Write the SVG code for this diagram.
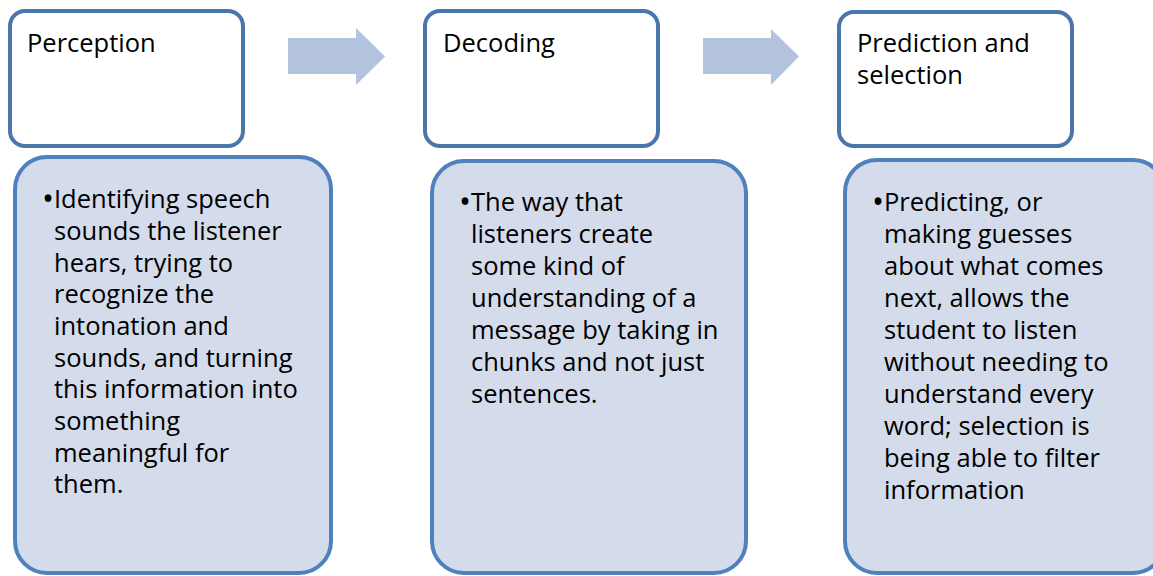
<svg xmlns="http://www.w3.org/2000/svg" width="1153" height="576" viewBox="0 0 1153 576">
  <style>
    .head { fill: #ffffff; stroke: #4a76aa; stroke-width: 4; }
    .body { fill: #d4dbea; stroke: #4f81bd; stroke-width: 4; }
    .flow { fill: #b3c2dd; }
    text { font-family: "Open Sans", "Liberation Sans", sans-serif; font-size: 25.5px; fill: #000000; }
    .dot { font-size: 32px; }
  </style>
  <rect width="1153" height="576" fill="#ffffff"/>

  <!-- flow arrows between the stages -->
  <g id="connectors">
    <polygon class="flow" points="288,38 356,38 356,28 385,56.5 356,85 356,74 288,74"/>
    <polygon class="flow" points="703,38 771,38 771,29 799,56.5 771,85 771,74 703,74"/>
  </g>

  <!-- stage 1 -->
  <g id="perception">
    <rect class="head" x="10" y="11" width="233" height="135" rx="15"/>
    <text x="27" y="52">Perception</text>
  </g>
  <g id="perception-detail">
    <rect class="body" x="15" y="157" width="316" height="416" rx="32"/>
    <text class="dot" x="42" y="210">•</text>
    <text x="54" y="208">Identifying speech</text>
    <text x="54" y="240">sounds the listener</text>
    <text x="54" y="272">hears, trying to</text>
    <text x="54" y="303">recognize the</text>
    <text x="54" y="335">intonation and</text>
    <text x="54" y="367">sounds, and turning</text>
    <text x="54" y="398">this information into</text>
    <text x="54" y="430">something</text>
    <text x="54" y="462">meaningful for</text>
    <text x="54" y="493">them.</text>
  </g>

  <!-- stage 2 -->
  <g id="decoding">
    <rect class="head" x="425" y="11" width="233" height="135" rx="15"/>
    <text x="443" y="52">Decoding</text>
  </g>
  <g id="decoding-detail">
    <rect class="body" x="432" y="161" width="314" height="412" rx="32"/>
    <text class="dot" x="459" y="213">•</text>
    <text x="471" y="211">The way that</text>
    <text x="471" y="243">listeners create</text>
    <text x="471" y="275">some kind of</text>
    <text x="471" y="307">understanding of a</text>
    <text x="471" y="339">message by taking in</text>
    <text x="471" y="371">chunks and not just</text>
    <text x="471" y="403">sentences.</text>
  </g>

  <!-- stage 3 -->
  <g id="prediction">
    <rect class="head" x="839" y="12" width="233" height="134" rx="15"/>
    <text x="857" y="52">Prediction and</text>
    <text x="857" y="84">selection</text>
  </g>
  <g id="prediction-detail">
    <rect class="body" x="845" y="160" width="320" height="413" rx="32"/>
    <text class="dot" x="872" y="213">•</text>
    <text x="884" y="211">Predicting, or</text>
    <text x="884" y="243">making guesses</text>
    <text x="884" y="275">about what comes</text>
    <text x="884" y="307">next, allows the</text>
    <text x="884" y="339">student to listen</text>
    <text x="884" y="371">without needing to</text>
    <text x="884" y="403">understand every</text>
    <text x="884" y="435">word; selection is</text>
    <text x="884" y="467">being able to filter</text>
    <text x="884" y="499">information</text>
  </g>
</svg>
